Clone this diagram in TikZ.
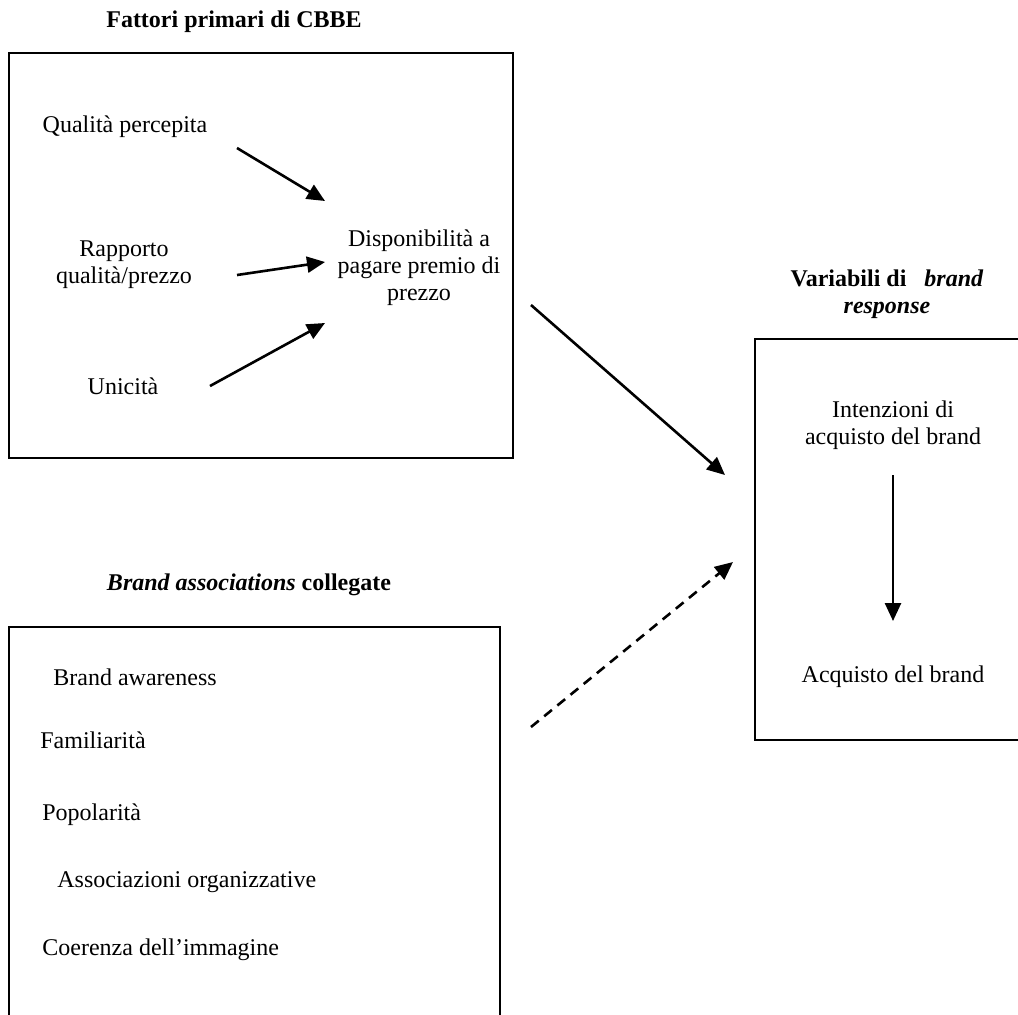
\documentclass[tikz,border=0pt]{standalone}
\usepackage{fontspec}
\setmainfont{Liberation Serif}
\usetikzlibrary{arrows.meta}
\begin{document}
\begin{tikzpicture}[x=0.5pt,y=-0.5pt,
  font=\fontsize{12}{13.5}\selectfont,
  panel/.style={draw=black,line width=0.9pt},
  label/.style={inner sep=0pt,anchor=base},
  item/.style={inner sep=0pt,anchor=base west},
  block/.style={inner sep=0pt,align=center},
  flow/.style={line width=1.3pt,-{Triangle[length=9pt,width=8pt]}},
  hint/.style={flow,dash pattern=on 5pt off 3.5pt}]
\fill[white] (0,0) rectangle (1018,1014);
\clip (0,0) rectangle (1018,1014);

% panels
\draw[panel] (9,53) rectangle (513,458);
\draw[panel] (755,339) rectangle (1030,740);
\draw[panel] (9,627) rectangle (500,1030);

% panel titles
\node[label,font=\fontsize{12}{13.5}\selectfont\bfseries] (t1) at (234,27) {Fattori primari di CBBE};
\node[block,font=\fontsize{12}{13.5}\selectfont\bfseries] (t2) at (887,294) {Variabili di~~~\textit{brand}\\\textit{response}};
\node[label,font=\fontsize{12}{13.5}\selectfont\bfseries] (t3) at (249,590) {\textit{Brand associations} collegate};

% primary CBBE factors
\node[label] (qp) at (125,132) {Qualità percepita};
\node[block] (rq) at (124,265) {Rapporto\\qualità/prezzo};
\node[label] (un) at (123,394) {Unicità};
\node[block] (dp) at (419,268) {Disponibilità a\\pagare premio di\\prezzo};

% brand response
\node[block] (ia) at (893,425) {Intenzioni di\\acquisto del brand};
\node[label] (ab) at (893,682) {Acquisto del brand};

% associations
\node[item] (ba) at (53,685) {Brand awareness};
\node[item] (fa) at (40,748) {Familiarità};
\node[item] (po) at (42,820) {Popolarità};
\node[item] (ao) at (57,887) {Associazioni organizzative};
\node[item] (ci) at (42,955) {Coerenza dell’immagine};

% connector ends
\coordinate (qpE) at (237,148);
\coordinate (rqE) at (237,275);
\coordinate (unE) at (210,386);
\coordinate (dpW1) at (325,201);
\coordinate (dpW2) at (325,262);
\coordinate (dpW3) at (325,323);
\coordinate (cbbeOut) at (531,305);
\coordinate (respIn1) at (725,475);
\coordinate (assocOut) at (531,727);
\coordinate (respIn2) at (733,562);
\coordinate (iaS) at (893,475);
\coordinate (abN) at (893,621);

\draw[flow] (qpE) -- (dpW1);
\draw[flow] (rqE) -- (dpW2);
\draw[flow] (unE) -- (dpW3);
\draw[flow] (cbbeOut) -- (respIn1);
\draw[hint] (assocOut) -- (respIn2);
\draw[flow] (iaS) -- (abN);
\end{tikzpicture}
\end{document}
